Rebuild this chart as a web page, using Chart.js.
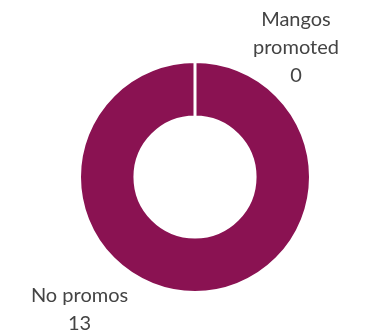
<!DOCTYPE html>
<html>
<head>
<meta charset="utf-8">
<script src="https://cdn.jsdelivr.net/npm/chart.js@4"></script>
<style>
  html, body { margin: 0; padding: 0; background: #fff; }
  #wrap { width: 370px; height: 334px; }
</style>
</head>
<body>
<div id="wrap"><canvas id="promoChart" width="370" height="334"></canvas></div>
<script>
// data
const categories = ['Mangos promoted', 'No promos'];
const counts = [0, 13];
const labelText = [['Mangos', 'promoted'], ['No promos']];

// label anchors (angle in degrees from the arc centre, distance in px)
const labelSpots = [{ angle: -52, dist: 164 }, { angle: 131, dist: 176 }];

const sliceLabels = {
  id: 'sliceLabels',
  afterDraw(chart) {
    const ctx = chart.ctx;
    const meta = chart.getDatasetMeta(0);
    ctx.save();
    ctx.font = '20px Lato, "Open Sans", sans-serif';
    ctx.fillStyle = '#444444';
    ctx.textAlign = 'center';
    ctx.textBaseline = 'middle';
    meta.data.forEach((arc, i) => {
      const spot = labelSpots[i];
      const a = spot.angle * Math.PI / 180;
      const cx = arc.x + Math.cos(a) * spot.dist;
      const cy = arc.y + Math.sin(a) * spot.dist;
      const lines = labelText[i].concat(String(counts[i]));
      const lh = 28;
      const top = cy - (lines.length - 1) * lh / 2;
      lines.forEach((t, k) => ctx.fillText(t, cx, top + k * lh));
    });
    ctx.restore();
  }
};

new Chart(document.getElementById('promoChart'), {
  type: 'doughnut',
  data: {
    labels: categories,
    datasets: [{
      data: counts,
      backgroundColor: ['#8A1252', '#8A1252'],
      borderColor: '#ffffff',
      borderWidth: 3
    }]
  },
  options: {
    responsive: false,
    animation: false,
    cutout: '52%',
    layout: { padding: { top: 60, bottom: 40, left: 78, right: 58 } },
    plugins: { legend: { display: false }, tooltip: { enabled: false } }
  },
  plugins: [sliceLabels]
});
</script>
</body>
</html>
